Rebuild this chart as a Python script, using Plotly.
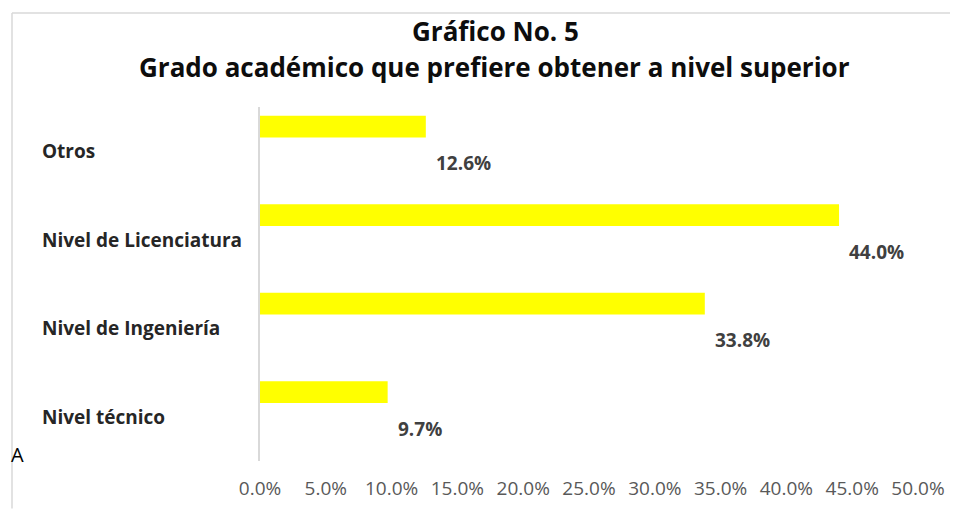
import plotly.graph_objects as go

categories = ["Nivel técnico", "Nivel de Ingeniería", "Nivel de Licenciatura", "Otros"]
values = [0.097, 0.338, 0.440, 0.126]
tick_vals = [0.0, 0.05, 0.10, 0.15, 0.20, 0.25, 0.30, 0.35, 0.40, 0.45, 0.50]
title_line1 = "Gráfico No. 5"
title_line2 = "Grado académico que prefiere obtener a nivel superior"
stray_text = "A"

# page body adds an 8px offset; work in reference-image pixels
OFF = 8
W, H = 958 - OFF, 513 - OFF
L, R, T, B = 260 - OFF, 40, 107 - OFF, 48
PW, PH = W - L - R, H - T - B

def px_x(p):
    return (p - OFF - L) / PW

def px_y(q):
    return (H - B - (q - OFF)) / PH

fig = go.Figure()
fig.add_trace(go.Bar(
    y=categories, x=values, orientation="h",
    marker=dict(color="#FFFF00", line=dict(width=0)),
    width=0.246, offset=0.154,
    hoverinfo="skip",
))

annotations = []
for c, v in zip(categories, values):
    annotations.append(dict(
        x=v, y=c, xref="x", yref="y", text=f"{v*100:.1f}%", showarrow=False,
        xanchor="left", yanchor="middle", xshift=8, yshift=-12,
        font=dict(family="Open Sans", size=19, color="#404040", weight="bold"),
    ))
    annotations.append(dict(
        x=px_x(40), y=c, xref="paper", yref="y", text=c, showarrow=False,
        xanchor="left", yanchor="middle",
        font=dict(family="Open Sans", size=19, color="#262626", weight="bold"),
    ))

annotations.append(dict(
    x=px_x(495), y=px_y(30), xref="paper", yref="paper", text=title_line1,
    showarrow=False, xanchor="center", yanchor="middle",
    font=dict(family="Open Sans", size=26, color="#0d0d0d", weight="bold"),
))
annotations.append(dict(
    x=px_x(494), y=px_y(67), xref="paper", yref="paper", text=title_line2,
    showarrow=False, xanchor="center", yanchor="middle",
    font=dict(family="Open Sans", size=26, color="#0d0d0d", weight="bold"),
))
# stray letter at the left edge of the original
annotations.append(dict(
    x=px_x(9), y=px_y(458), xref="paper", yref="paper", text=stray_text,
    showarrow=False, xanchor="left", yanchor="middle",
    font=dict(family="Open Sans", size=20, color="#000000"),
))

shapes = [
    dict(type="line", xref="paper", yref="paper", x0=px_x(12), x1=px_x(958),
         y0=px_y(12), y1=px_y(12), line=dict(color="#D9D9D9", width=1.5)),
    dict(type="line", xref="paper", yref="paper", x0=px_x(12), x1=px_x(12),
         y0=px_y(12), y1=px_y(513), line=dict(color="#D9D9D9", width=1.5)),
]

fig.update_layout(
    width=W, height=H,
    margin=dict(l=L, r=R, t=T, b=B),
    paper_bgcolor="white", plot_bgcolor="white",
    showlegend=False,
    annotations=annotations,
    shapes=shapes,
    xaxis=dict(
        range=[0, 0.5], tickvals=tick_vals, tickformat=".1%",
        showgrid=False, zeroline=False, showline=False, ticks="",
        tickfont=dict(family="Open Sans", size=19, color="#595959"),
        ticklabelstandoff=14,
    ),
    yaxis=dict(
        categoryorder="array", categoryarray=categories,
        range=[-0.5, 3.5],
        showticklabels=False, showgrid=False, zeroline=False,
        showline=True, linecolor="#D9D9D9", linewidth=2, ticks="",
    ),
)

fig.write_html("out.html")
